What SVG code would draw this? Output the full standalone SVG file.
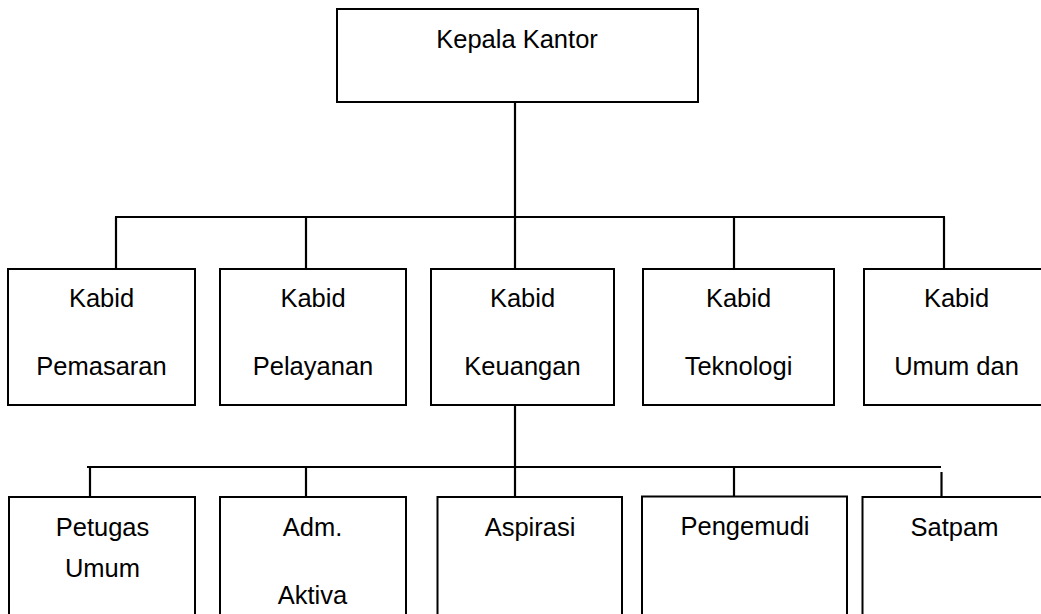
<svg xmlns="http://www.w3.org/2000/svg" width="1041" height="614" viewBox="0 0 1041 614">
  <style>
    .box { fill: #ffffff; stroke: #000000; stroke-width: 2; }
    .conn { fill: none; stroke: #000000; stroke-width: 2.2; stroke-linecap: butt; }
    .lbl { font-family: "Liberation Sans", Arial, sans-serif; font-size: 25.5px; fill: #000000; text-anchor: middle; }
  </style>
  <rect x="0" y="0" width="1041" height="614" fill="#ffffff"/>

  <g id="connectors">
    <path class="conn" d="M515,102 V217"/>
    <path class="conn" d="M115,217 H945"/>
    <path class="conn" d="M116,217 V269"/>
    <path class="conn" d="M306,217 V269"/>
    <path class="conn" d="M515,217 V269"/>
    <path class="conn" d="M734,217 V269"/>
    <path class="conn" d="M944,217 V269"/>
    <path class="conn" d="M515,405 V497"/>
    <path class="conn" d="M87,467 H941"/>
    <path class="conn" d="M90,467 V497"/>
    <path class="conn" d="M306,467 V497"/>
    <path class="conn" d="M734,467 V497"/>
    <path class="conn" d="M941.5,472 V497"/>
  </g>

  <g id="kepala-kantor">
    <rect class="box" x="337" y="9" width="361" height="93"/>
    <text class="lbl" x="517" y="48">Kepala Kantor</text>
  </g>

  <g id="kabid-pemasaran">
    <rect class="box" x="8" y="269" width="187" height="136"/>
    <text class="lbl" x="101.5" y="307">Kabid</text>
    <text class="lbl" x="101.5" y="375">Pemasaran</text>
  </g>
  <g id="kabid-pelayanan">
    <rect class="box" x="220" y="269" width="186" height="136"/>
    <text class="lbl" x="313" y="307">Kabid</text>
    <text class="lbl" x="313" y="375">Pelayanan</text>
  </g>
  <g id="kabid-keuangan">
    <rect class="box" x="431" y="269" width="183" height="136"/>
    <text class="lbl" x="522.5" y="307">Kabid</text>
    <text class="lbl" x="522.5" y="375">Keuangan</text>
  </g>
  <g id="kabid-teknologi">
    <rect class="box" x="643" y="269" width="191" height="136"/>
    <text class="lbl" x="738.5" y="307">Kabid</text>
    <text class="lbl" x="738.5" y="375">Teknologi</text>
  </g>
  <g id="kabid-umum">
    <rect class="box" x="864" y="269" width="185" height="136"/>
    <text class="lbl" x="956.5" y="307">Kabid</text>
    <text class="lbl" x="956.5" y="375">Umum dan</text>
  </g>

  <g id="petugas-umum">
    <rect class="box" x="9" y="497" width="186" height="130"/>
    <text class="lbl" x="102.5" y="536">Petugas</text>
    <text class="lbl" x="102.5" y="577">Umum</text>
  </g>
  <g id="adm-aktiva">
    <rect class="box" x="220" y="497" width="186" height="130"/>
    <text class="lbl" x="312.5" y="536">Adm.</text>
    <text class="lbl" x="312.5" y="604">Aktiva</text>
  </g>
  <g id="aspirasi">
    <rect class="box" x="437.5" y="497" width="184.5" height="130"/>
    <text class="lbl" x="530" y="536">Aspirasi</text>
  </g>
  <g id="pengemudi">
    <rect class="box" x="642" y="496.5" width="205" height="130"/>
    <text class="lbl" x="745" y="534.5">Pengemudi</text>
  </g>
  <g id="satpam">
    <rect class="box" x="862.5" y="497" width="185" height="130"/>
    <text class="lbl" x="954.5" y="536">Satpam</text>
  </g>
</svg>
